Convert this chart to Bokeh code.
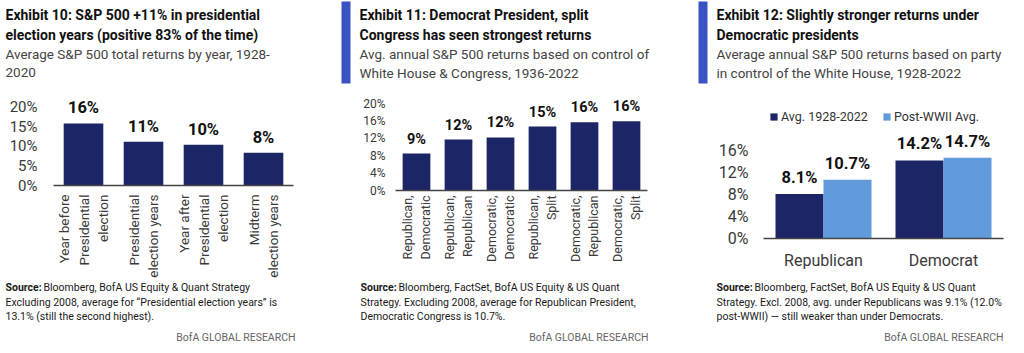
import math
from bokeh.plotting import figure
from bokeh.models import (ColumnDataSource, Range1d, FactorRange, FixedTicker, Label, LabelSet,
                          Legend, LegendItem, BoxAnnotation, PrintfTickFormatter)
from bokeh.core.properties import value
from bokeh.layouts import row, column
from bokeh.transform import dodge
from bokeh.embed import file_html
from bokeh.resources import INLINE

# ---------------- data ----------------
p1_categories = ["Year before\nPresidential\nelection", "Presidential\nelection years",
                 "Year after\nPresidential\nelection", "Midterm\nelection years"]
p1_values = [15.9, 11.2, 10.4, 8.4]
p1_labels = ["16%", "11%", "10%", "8%"]
p1_ticks = [0, 5, 10, 15, 20]

p2_categories = ["Republican,\nDemocratic", "Republican,\nRepublican", "Democratic,\nDemocratic",
                 "Republican,\nSplit", "Democratic,\nRepublican", "Democratic,\nSplit"]
p2_values = [8.5, 11.7, 12.2, 14.7, 15.7, 15.9]
p2_labels = ["9%", "12%", "12%", "15%", "16%", "16%"]
p2_ticks = [0, 4, 8, 12, 16, 20]

p3_parties = ["Republican", "Democrat"]
p3_avg = [8.1, 14.2]
p3_postwar = [10.7, 14.7]
p3_avg_labels = ["8.1%", "14.2%"]
p3_postwar_labels = ["10.7%", "14.7%"]
p3_series = ["Avg. 1928-2022", "Post-WWII Avg."]
p3_ticks = [0, 4, 8, 12, 16]

# ---------------- style ----------------
NAVY = "#1c2566"
LIGHT = "#619bdc"
ACCENT = "#3a53c4"
FONT = "Roboto"
HEAD_H = 88
CHART_H = 192
FOOT_H = 73


def text_fig(width, height):
    f = figure(width=width, height=height, x_range=Range1d(0, width), y_range=Range1d(height, 0),
               output_backend="svg", toolbar_location=None, min_border=0,
               x_axis_location=None, y_axis_location=None)
    f.outline_line_color = None
    f.xgrid.grid_line_color = None
    f.ygrid.grid_line_color = None
    return f


def put(f, X, Y, txt, size, bold=False, color="#1a1a1a", align="left"):
    f.add_layout(Label(x=X, y=Y, text=txt, text_font=FONT, text_font_size=f"{size}px",
                       text_font_style="bold" if bold else "normal",
                       text_color=color, text_align=align, text_baseline="middle"))


def header(width, x, title, subtitle, accent_x=None):
    f = text_fig(width, HEAD_H)
    if accent_x is not None:
        f.add_layout(BoxAnnotation(left=accent_x, right=accent_x + 9, top=1, bottom=83,
                                   fill_color=ACCENT, fill_alpha=1, line_color=None))
    put(f, x, 14, title[0], 14, bold=True, color="#111111")
    put(f, x, 34, title[1], 14, bold=True, color="#111111")
    put(f, x, 53, subtitle[0], 13.5, color="#444444")
    put(f, x, 72, subtitle[1], 13.5, color="#444444")
    return f


def footer(width, x, source, notes, bofa_right):
    f = text_fig(width, FOOT_H)
    put(f, x, 7, "Source:", 10.5, bold=True)
    put(f, x + 38, 7, source, 10.5)
    put(f, x, 22, notes[0], 10.5)
    put(f, x, 36, notes[1], 10.5)
    put(f, bofa_right, 57, "BofA GLOBAL RESEARCH", 10.5, color="#666666", align="right")
    return f


def chart(width, factors, y_end, ticks, bl, br, bt, bb, ytick_size, ystandoff, xtick_size, xstandoff, vertical):
    p = figure(width=width, height=CHART_H, x_range=FactorRange(*factors), y_range=Range1d(0, y_end),
               output_backend="svg", toolbar_location=None,
               min_border_left=bl, min_border_right=br, min_border_top=bt, min_border_bottom=bb)
    p.outline_line_color = None
    p.xgrid.grid_line_color = None
    p.ygrid.grid_line_color = None
    p.yaxis.ticker = FixedTicker(ticks=ticks)
    p.yaxis.formatter = PrintfTickFormatter(format="%d%%")
    p.yaxis.axis_line_color = None
    p.yaxis.major_tick_line_color = None
    p.yaxis.minor_tick_line_color = None
    p.yaxis.major_tick_out = 0
    p.yaxis.major_label_standoff = ystandoff
    p.yaxis.major_label_text_font = FONT
    p.yaxis.major_label_text_font_size = f"{ytick_size}px"
    p.yaxis.major_label_text_color = "#3a3a3a"
    p.xaxis.axis_line_color = "#444444"
    p.xaxis.axis_line_width = 1.5
    p.xaxis.major_tick_line_color = None
    p.xaxis.major_tick_out = 0
    p.xaxis.major_label_standoff = xstandoff
    p.xaxis.major_label_text_font = FONT
    p.xaxis.major_label_text_font_size = f"{xtick_size}px"
    p.xaxis.major_label_text_color = "#3a3a3a"
    if vertical:
        p.xaxis.major_label_orientation = math.pi / 2
    return p


def value_labels(p, x, y, text, source, size, offset):
    p.add_layout(LabelSet(x=x, y=y, text=text, source=source, text_align="center",
                          text_baseline="bottom", y_offset=offset, text_font=value(FONT),
                          text_font_size=f"{size}px", text_font_style="bold", text_color="#111111"))


# ---------------- panel 1 ----------------
h1 = header(340, 5, ["Exhibit 10: S&P 500 +11% in presidential", "election years (positive 83% of the time)"],
            ["Average S&P 500 total returns by year, 1928-", "2020"])
c1 = chart(340, p1_categories, 20 * (186 - 95) / (186 - 107), p1_ticks,
           53, 47, 95 - HEAD_H, HEAD_H + CHART_H - 186, 15, 16, 13.5, 9, True)
s1 = ColumnDataSource(dict(cat=p1_categories, val=p1_values, lab=p1_labels))
c1.vbar(x="cat", top="val", width=0.66, source=s1, fill_color=NAVY, line_color=None)
value_labels(c1, "cat", "val", "lab", s1, 16.5, 6)
f1 = footer(340, 5, "Bloomberg, BofA US Equity & Quant Strategy",
            ["Excluding 2008, average for \u201cPresidential election years\u201d is",
             "13.1% (still the second highest)."], 295)

# ---------------- panel 2 ----------------
h2 = header(340, 19, ["Exhibit 11: Democrat President, split", "Congress has seen strongest returns"],
            ["Avg. annual S&P 500 returns based on control of", "White House & Congress, 1936-2022"],
            accent_x=1)
c2 = chart(340, p2_categories, 20 * (190 - 95) / (190 - 103), p2_ticks,
           55, 33, 95 - HEAD_H, HEAD_H + CHART_H - 190, 12, 10, 12.5, 5, True)
s2 = ColumnDataSource(dict(cat=p2_categories, val=p2_values, lab=p2_labels))
c2.vbar(x="cat", top="val", width=0.66, source=s2, fill_color=NAVY, line_color=None)
value_labels(c2, "cat", "val", "lab", s2, 14.5, 6)
f2 = footer(340, 20, "Bloomberg, FactSet, BofA US Equity & US Quant",
            ["Strategy. Excluding 2008, average for Republican President,",
             "Democratic Congress is 10.7%."], 308)

# ---------------- panel 3 ----------------
h3 = header(344, 36, ["Exhibit 12: Slightly stronger returns under", "Democratic presidents"],
            ["Average annual S&P 500 returns based on party", "in control of the White House, 1928-2022"],
            accent_x=18)
c3 = chart(344, p3_parties, 16 * (238 - 100) / (238 - 150), p3_ticks,
           83, 21, 100 - HEAD_H, HEAD_H + CHART_H - 238, 16, 15, 16, 12, False)
s3 = ColumnDataSource(dict(cat=p3_parties, avg=p3_avg, post=p3_postwar,
                           avg_lab=p3_avg_labels, post_lab=p3_postwar_labels))
r_avg = c3.vbar(x=dodge("cat", -0.2, range=c3.x_range), top="avg", width=0.4, source=s3,
                fill_color=NAVY, line_color=None)
r_post = c3.vbar(x=dodge("cat", 0.2, range=c3.x_range), top="post", width=0.4, source=s3,
                 fill_color=LIGHT, line_color=None)
value_labels(c3, dodge("cat", -0.2, range=c3.x_range), "avg", "avg_lab", s3, 16.5, 7)
value_labels(c3, dodge("cat", 0.2, range=c3.x_range), "post", "post_lab", s3, 16.5, 7)
legend = Legend(items=[LegendItem(label=p3_series[0], renderers=[r_avg]),
                       LegendItem(label=p3_series[1], renderers=[r_post])],
                orientation="horizontal", location=(6, 114), border_line_color=None,
                background_fill_alpha=0, padding=0, margin=0, spacing=14,
                glyph_width=9, glyph_height=9, label_standoff=3,
                label_text_font=FONT, label_text_font_size="12.5px", label_text_color="#333333",
                label_height=14)
c3.add_layout(legend)
f3 = footer(344, 36, "Bloomberg, FactSet, BofA US Equity & US Quant",
            ["Strategy. Excl. 2008, avg. under Republicans was 9.1% (12.0%",
             "post-WWII) \u2014 still weaker than under Democrats."], 323)

layout = row(column(row(h1), c1, row(f1), spacing=0),
             column(row(h2), c2, row(f2), spacing=0),
             column(row(h3), c3, row(f3), spacing=0), spacing=0)
open("out.html", "w").write(file_html(layout, INLINE))
